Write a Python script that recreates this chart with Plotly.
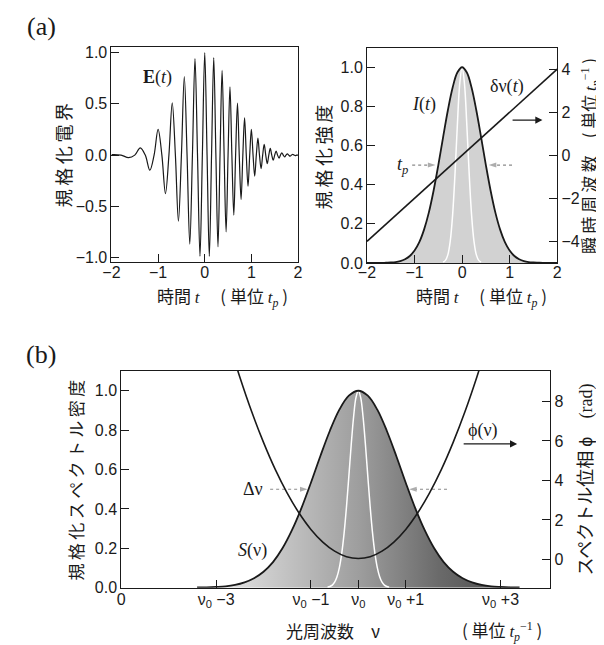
import plotly.graph_objects as go

W, H = 604, 645

# ---------------- data ----------------
# (a) left: chirped electric field E(t) -- extrema and zero crossings
t_field = [-2.0, -1.793, -1.634, -1.5, -1.382, -1.275, -1.177, -1.086, -1.0, -0.919,
           -0.842, -0.768, -0.697, -0.629, -0.564, -0.5, -0.438, -0.379, -0.321, -0.264,
           -0.209, -0.155, -0.102, -0.051, 0.0, 0.050, 0.098, 0.146, 0.193, 0.239,
           0.284, 0.328, 0.372, 0.416, 0.458, 0.5, 0.541, 0.582, 0.623, 0.662,
           0.702, 0.740, 0.779, 0.817, 0.854, 0.891, 0.928, 0.964, 1.0, 1.036,
           1.071, 1.106, 1.140, 1.174, 1.208, 1.242, 1.275, 1.308, 1.341, 1.373,
           1.405, 1.437, 1.469, 1.5, 1.531, 1.562, 1.593, 1.623, 1.653, 1.683,
           1.713, 1.743, 1.772, 1.801, 1.830, 1.859, 1.888, 1.916, 1.944, 1.972, 2.0]
e_field = [0.004, 0, -0.025, 0, 0.071, 0, -0.147, 0, 0.250, 0,
           -0.375, 0, 0.510, 0, -0.644, 0, 0.766, 0, -0.867, 0,
           0.941, 0, -0.986, 0, 1.0, 0, -0.987, 0, 0.950, 0,
           -0.894, 0, 0.825, 0, -0.748, 0, 0.666, 0, -0.584, 0,
           0.506, 0, -0.432, 0, 0.364, 0, -0.303, 0, 0.250, 0,
           -0.204, 0, 0.165, 0, -0.132, 0, 0.105, 0, -0.083, 0,
           0.065, 0, -0.050, 0, 0.039, 0, -0.030, 0, 0.023, 0,
           -0.017, 0, 0.013, 0, -0.010, 0, 0.007, 0, -0.005, 0, 0.0]

# (a) right: intensity I(t), compressed pulse (white), instantaneous frequency
t_int = [round(-2.0 + 0.1 * i, 1) for i in range(41)]
i_int = [0.000, 0.000, 0.000, 0.000, 0.001, 0.002, 0.004, 0.009, 0.019, 0.035,
         0.063, 0.106, 0.170, 0.257, 0.369, 0.500, 0.642, 0.779, 0.895, 0.973,
         1.000,
         0.973, 0.895, 0.779, 0.642, 0.500, 0.369, 0.257, 0.170, 0.106, 0.063,
         0.035, 0.019, 0.009, 0.004, 0.002, 0.001, 0.000, 0.000, 0.000, 0.000]
t_short = [round(-0.4 + 0.05 * i, 2) for i in range(17)]
i_short = [0.004, 0.013, 0.041, 0.110, 0.243, 0.451, 0.702, 0.915, 1.000,
           0.915, 0.702, 0.451, 0.243, 0.110, 0.041, 0.013, 0.004]
t_chirp = [-2.0, 2.0]
dnu_chirp = [-4.0, 4.0]

# (b): spectrum S(nu), transform-limited spectrum (white), spectral phase
nu_spec = [round(1.6 + 0.2 * i, 1) for i in range(35)]
s_spec = [0.001, 0.002, 0.004, 0.007, 0.014, 0.027, 0.048, 0.081, 0.130, 0.200,
          0.292, 0.404, 0.533, 0.669, 0.797, 0.904, 0.975, 1.000, 0.975, 0.904,
          0.797, 0.669, 0.533, 0.404, 0.292, 0.200, 0.130, 0.081, 0.048, 0.027,
          0.014, 0.007, 0.004, 0.002, 0.001]
nu_tl = [round(4.35 + 0.05 * i, 2) for i in range(27)]
s_tl = [0.002, 0.006, 0.013, 0.028, 0.056, 0.102, 0.174, 0.277, 0.410, 0.565,
        0.726, 0.867, 0.965, 1.000, 0.965, 0.867, 0.726, 0.565, 0.410, 0.277,
        0.174, 0.102, 0.056, 0.028, 0.013, 0.006, 0.002]
nu_phase = [round(2.25 + 0.25 * i, 2) for i in range(23)]
phi_phase = [11.17, 9.24, 7.49, 5.93, 4.55, 3.36, 2.35, 1.52, 0.88, 0.42, 0.14, 0.05,
             0.14, 0.42, 0.88, 1.52, 2.35, 3.36, 4.55, 5.93, 7.49, 9.24, 11.17]

# tick labels
a_field_ticks = [-1.0, -0.5, 0.0, 0.5, 1.0]
a_time_ticks = [-2, -1, 0, 1, 2]
a_int_ticks = [0.0, 0.2, 0.4, 0.6, 0.8, 1.0]
a_freq_ticks = [-4, -2, 0, 2, 4]
b_nu_ticks = [0, 2, 4, 5, 6, 8]
b_nu_labels = ["0", "ν<sub>0</sub> −3", "ν<sub>0</sub> −1", "ν<sub>0</sub>",
               "ν<sub>0</sub> +1", "ν<sub>0</sub> +3"]
b_s_ticks = [0.0, 0.2, 0.4, 0.6, 0.8, 1.0]
b_phi_ticks = [0, 2, 4, 6, 8]

# ---------------- figure ----------------
SANS = "Liberation Sans, Arial, sans-serif"
SERIF = "Liberation Serif, Times New Roman, serif"
CJK = "Noto Sans CJK JP, sans-serif"
INK = "#1a1a1a"
GREY = "#8a8a8a"

fig = go.Figure()

# (a) left
fig.add_trace(go.Scatter(x=t_field, y=e_field, mode="lines", xaxis="x", yaxis="y",
                         line=dict(color=INK, width=1.2, shape="spline", smoothing=1.0)))

# (a) right
fig.add_trace(go.Scatter(x=t_int, y=i_int, mode="lines", xaxis="x2", yaxis="y2",
                         fill="tozeroy", fillcolor="#d2d2d2",
                         line=dict(color="rgba(0,0,0,0)", width=0, shape="spline")))
fig.add_trace(go.Scatter(x=t_short, y=i_short, mode="lines", xaxis="x2", yaxis="y2",
                         line=dict(color="white", width=1.5, shape="spline")))
fig.add_trace(go.Scatter(x=t_int, y=i_int, mode="lines", xaxis="x2", yaxis="y2",
                         line=dict(color=INK, width=1.8, shape="spline")))
fig.add_trace(go.Scatter(x=t_chirp, y=dnu_chirp, mode="lines", xaxis="x2", yaxis="y3",
                         line=dict(color=INK, width=1.6)))

# (b)
fig.add_trace(go.Scatter(x=nu_spec, y=s_spec, mode="lines", xaxis="x3", yaxis="y4",
                         fill="tozeroy",
                         fillgradient=dict(type="horizontal",
                                           colorscale=[[0, "#f0f0f0"], [0.2, "#cfcfcf"],
                                                       [0.5, "#9e9e9e"], [0.75, "#6a6a6a"],
                                                       [1, "#474747"]]),
                         line=dict(color="rgba(0,0,0,0)", width=0, shape="spline")))
fig.add_trace(go.Scatter(x=nu_tl, y=s_tl, mode="lines", xaxis="x3", yaxis="y4",
                         line=dict(color="white", width=1.5, shape="spline")))
fig.add_trace(go.Scatter(x=nu_spec, y=s_spec, mode="lines", xaxis="x3", yaxis="y4",
                         line=dict(color=INK, width=1.8, shape="spline")))
fig.add_trace(go.Scatter(x=nu_phase, y=phi_phase, mode="lines", xaxis="x3", yaxis="y5",
                         line=dict(color=INK, width=1.6, shape="spline")))


# dotted width markers (t_p and delta nu)
def dotted_arrow(x0, x1, y, xa, ya):
    fig.add_trace(go.Scatter(x=[x0, x1], y=[y, y], mode="lines+markers", xaxis=xa, yaxis=ya,
                             line=dict(color=GREY, width=1.2, dash="dot"),
                             marker=dict(symbol="arrow", angleref="previous", size=[0, 8],
                                         color=GREY, line=dict(width=0))))


dotted_arrow(-1.05, -0.56, 0.5, "x2", "y2")
dotted_arrow(1.05, 0.56, 0.5, "x2", "y2")
dotted_arrow(3.14, 3.93, 0.5, "x3", "y4")
dotted_arrow(6.87, 6.07, 0.5, "x3", "y4")

tick_common = dict(ticks="inside", ticklen=8, tickwidth=1, tickcolor=INK,
                   showline=True, linecolor=INK, linewidth=1, mirror=True,
                   showgrid=False, zeroline=False,
                   tickfont=dict(family=SANS, size=16, color=INK))

fig.update_layout(
    width=W, height=H, margin=dict(l=0, r=0, t=0, b=0),
    paper_bgcolor="white", plot_bgcolor="white", showlegend=False,
    xaxis=dict(domain=[0.1601, 0.4763], anchor="y", range=[-2, 2],
               tickvals=a_time_ticks, **tick_common),
    yaxis=dict(domain=[0.602, 0.9422], anchor="x", range=[-1.045, 1.057],
               tickvals=a_field_ticks, tickformat=".1f", **tick_common),
    xaxis2=dict(domain=[0.5932, 0.9156], anchor="y2", range=[-2, 2],
                tickvals=a_time_ticks, **tick_common),
    yaxis2=dict(domain=[0.6011, 0.9406], anchor="x2", range=[0, 1.1],
                tickvals=a_int_ticks, tickformat=".1f", **tick_common),
    yaxis3=dict(overlaying="y2", side="right", anchor="x2", range=[-5, 5],
                tickvals=a_freq_ticks, **tick_common),
    xaxis3=dict(domain=[0.1767, 0.904], anchor="y4", range=[0, 9.05],
                tickvals=b_nu_ticks, ticktext=b_nu_labels, **tick_common),
    xaxis4=dict(overlaying="x3", anchor="y4", range=[0, 9.05], tickvals=[5],
                ticks="inside", ticklen=17, tickcolor=INK, showticklabels=False,
                showline=False, showgrid=False, zeroline=False),
    yaxis4=dict(domain=[0.0888, 0.4305], anchor="x3", range=[0, 1.1],
                tickvals=b_s_ticks, tickformat=".1f", **tick_common),
    yaxis5=dict(overlaying="y4", side="right", anchor="x3", range=[-1.43, 9.54],
                tickvals=b_phi_ticks, **tick_common),
)

# pull x tick labels a little closer to the axis (as in the reference)
try:
    fig.update_layout(xaxis_ticklabelstandoff=-5, xaxis2_ticklabelstandoff=-5,
                      xaxis3_ticklabelstandoff=-3)
except Exception:
    pass


def px(x):
    return x / W


def py(y):
    return 1 - y / H


SP = "\u2009"  # thin space used as letter spacing in the vertical titles


def spaced(s):
    return SP.join(list(s))


T_IT = '<span style="font-family:Liberation Serif"><i>t</i></span>'
TP_IT = '<span style="font-family:Liberation Serif"><i>t<sub>p</sub></i></span>'
TP_INV = '<span style="font-family:Liberation Serif"><i>t<sub>p</sub></i><sup>−1</sup></span>'

ann = []


def paper_text(text, x, y, size=17, angle=0, family=CJK):
    ann.append(dict(text=text, x=px(x), y=py(y), xref="paper", yref="paper",
                    showarrow=False, textangle=angle, xanchor="center", yanchor="middle",
                    font=dict(family=family, size=size, color=INK)))


def data_text(text, x, y, xr, yr, size=18):
    ann.append(dict(text=text, x=x, y=y, xref=xr, yref=yr, showarrow=False,
                    xanchor="center", yanchor="middle",
                    font=dict(family=SERIF, size=size, color=INK)))


def data_arrow(x0, x1, y, xr, yr):
    ann.append(dict(text="", x=x1, y=y, ax=x0, ay=y, xref=xr, yref=yr,
                    axref=xr, ayref=yr, showarrow=True, arrowhead=2,
                    arrowsize=1.1, arrowwidth=1.3, arrowcolor=INK))


# panel labels
paper_text("(a)", 25, 17, size=26, family=SERIF)
paper_text("(b)", 25, 350, size=26, family=SERIF)

# axis titles
paper_text(spaced("規格化電界"), 48, 148, size=18, angle=-90)
paper_text("時間 " + T_IT + "　 ( 単位 " + TP_IT + " )", 210, 291, size=17)
paper_text(spaced("規格化強度"), 314, 150, size=18, angle=-90)
paper_text("時間 " + T_IT + "　 ( 単位 " + TP_IT + " )", 476, 291, size=17)
paper_text(spaced("瞬時周波数") + "　( 単位 " + TP_INV + " )", 586, 148, size=17, angle=-90)
paper_text(spaced("規格化スペクトル密度"), 60, 478, size=17, angle=-90)
paper_text("スペクトル位相 ϕ　<span style=\"font-family:Liberation Serif\">(rad)</span>",
           580, 478, size=18, angle=-90)
paper_text("光周波数　ν", 323, 631, size=17)
paper_text("( 単位 " + TP_INV + " )", 497, 631, size=17)

# in-plot labels
data_text("<b>E</b>(<i>t</i>)", -1.01, 0.76, "x", "y")
data_text("<i>I</i>(<i>t</i>)", -0.80, 0.81, "x2", "y2")
data_text("δν(<i>t</i>)", 0.95, 0.90, "x2", "y2")
data_text("<i>t<sub>p</sub></i>", -1.26, 0.50, "x2", "y2")
data_text("Δν", 2.77, 0.50, "x3", "y4")
data_text("<i>S</i>(ν)", 2.77, 0.19, "x3", "y4")
data_text("ϕ(ν)", 7.63, 0.80, "x3", "y4")
data_arrow(1.03, 1.69, 0.73, "x2", "y2")
data_arrow(7.19, 8.35, 0.73, "x3", "y4")

fig.update_layout(annotations=ann)

fig.write_html("out.html")
